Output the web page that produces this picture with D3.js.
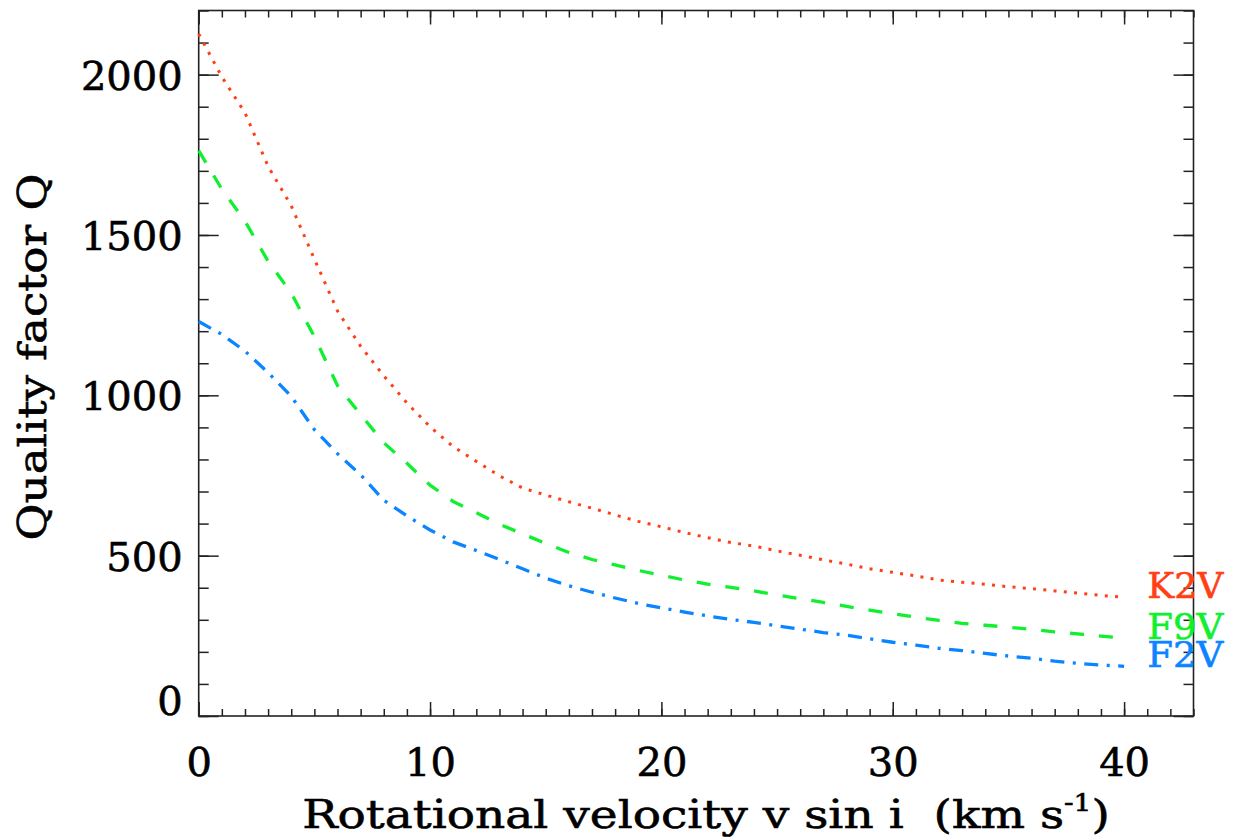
<!DOCTYPE html>
<html>
<head>
<meta charset="utf-8">
<script src="https://cdn.jsdelivr.net/npm/d3@7"></script>
<style>
body { margin: 0; background: #fff; }
text { font-family: "DejaVu Serif", serif; fill: #000; stroke: #000; stroke-width: 0.6px; }
</style>
</head>
<body>
<svg width="1233" height="837"></svg>
<script>
// v sin i grid (km/s)
var vsini = [0, 1, 2, 3, 4, 5, 6, 7, 8, 9, 10, 11, 12, 13, 14, 15, 16, 17, 18, 19, 20,
    21, 22, 23, 24, 25, 26, 27, 28, 29, 30, 31, 32, 33, 34, 35, 36, 37, 38, 39, 40];

// quality factor Q
var k2v = [2127, 1993, 1881, 1714, 1591, 1425, 1263, 1153, 1061, 976, 902, 840, 794, 749, 711, 689, 668, 648, 627, 607, 590,
    572, 556, 541, 530, 515, 501, 487, 474, 459, 448, 437, 424, 417, 411, 403, 397, 390, 383, 376, 370];
var f9v = [1763, 1643, 1543, 1418, 1319, 1183, 1030, 940, 852, 788, 720, 669, 634, 598, 568, 538, 510, 488, 471, 454, 439,
    424, 411, 401, 390, 377, 366, 354, 342, 330, 319, 308, 298, 289, 283, 277, 270, 262, 256, 249, 243];
var f2v = [1230, 1190, 1138, 1071, 997, 893, 818, 752, 673, 624, 580, 543, 516, 488, 459, 430, 406, 386, 368, 351, 337,
    324, 312, 301, 292, 281, 271, 260, 252, 241, 230, 221, 211, 204, 195, 187, 180, 171, 164, 159, 155];

var seriesNames = ["K2V", "F9V", "F2V"];
var xMajor = [0, 10, 20, 30, 40];
var yMajor = [0, 500, 1000, 1500, 2000];

var svg = d3.select("svg");

var x = d3.scaleLinear().domain([0, 43]).range([198.7, 1193.5]);
var y = d3.scaleLinear().domain([0, 2200]).range([716, 10.5]);

var series = [
    { name: seriesNames[0], values: k2v, color: "#ff4014", dash: "3,7.3", width: 3 },
    { name: seriesNames[1], values: f9v, color: "#10f030", dash: "14,15", width: 3.3 },
    { name: seriesNames[2], values: f2v, color: "#0a84ff", dash: "14,8.5,3,8.5", width: 3.3 }
];

// frame
svg.append("rect")
    .attr("x", x(0)).attr("y", y(2200))
    .attr("width", x(43) - x(0)).attr("height", y(0) - y(2200))
    .attr("fill", "none").attr("stroke", "#222").attr("stroke-width", 1.6);

function styleAxis(g) {
    g.select(".domain").remove();
    g.selectAll(".tick line").attr("stroke", "#222").attr("stroke-width", 1.5);
}

var minorX = d3.range(0, 44, 1), minorY = d3.range(0, 2201, 100);

// bottom axis
svg.append("g").attr("transform", "translate(0," + y(0) + ")")
    .call(d3.axisBottom(x).tickValues(minorX).tickSize(-7).tickFormat(""))
    .call(styleAxis);
var xAxis = svg.append("g").attr("transform", "translate(0," + y(0) + ")")
    .call(d3.axisBottom(x).tickValues(xMajor).tickSize(-14).tickPadding(32).tickFormat(d3.format("d")))
    .call(styleAxis);
xAxis.selectAll(".tick text").attr("font-size", 40).attr("font-family", "DejaVu Serif");

// top axis
svg.append("g").attr("transform", "translate(0," + y(2200) + ")")
    .call(d3.axisTop(x).tickValues(minorX).tickSize(-7).tickFormat(""))
    .call(styleAxis);
svg.append("g").attr("transform", "translate(0," + y(2200) + ")")
    .call(d3.axisTop(x).tickValues(xMajor).tickSize(-14).tickFormat(""))
    .call(styleAxis);

// left axis
svg.append("g").attr("transform", "translate(" + x(0) + ",0)")
    .call(d3.axisLeft(y).tickValues(minorY).tickSize(-10).tickFormat(""))
    .call(styleAxis);
var yAxis = svg.append("g").attr("transform", "translate(" + x(0) + ",0)")
    .call(d3.axisLeft(y).tickValues(yMajor).tickSize(-20).tickPadding(16).tickFormat(d3.format("d")))
    .call(styleAxis);
yAxis.selectAll(".tick text").attr("font-size", 40).attr("font-family", "DejaVu Serif")
    .attr("dy", function(d) { return d === 0 ? "-0.05em" : "0.36em"; });

// right axis
svg.append("g").attr("transform", "translate(" + x(43) + ",0)")
    .call(d3.axisRight(y).tickValues(minorY).tickSize(-10).tickFormat(""))
    .call(styleAxis);
svg.append("g").attr("transform", "translate(" + x(43) + ",0)")
    .call(d3.axisRight(y).tickValues(yMajor).tickSize(-20).tickFormat(""))
    .call(styleAxis);

// curves
var line = d3.line()
    .x(function(d, i) { return x(vsini[i]); })
    .y(function(d) { return y(d); });

series.forEach(function(s) {
    svg.append("path")
        .datum(s.values)
        .attr("d", line)
        .attr("fill", "none")
        .attr("stroke", s.color)
        .attr("stroke-width", s.width)
        .attr("stroke-dasharray", s.dash)
        .attr("stroke-linecap", "butt");

    svg.append("text")
        .attr("x", x(41))
        .attr("y", y(s.values[s.values.length - 1]) + 1)
        .attr("font-size", 36)
        .attr("textLength", 76)
        .attr("lengthAdjust", "spacingAndGlyphs")
        .style("fill", s.color)
        .style("stroke", s.color)
        .text(s.name);
});

// axis titles, squeezed/stretched to the widths in the figure
function fitWidth(sel, w, cx) {
    var bb = sel.node().getBBox();
    var k = w / bb.width;
    sel.attr("transform", "translate(" + cx + ",0) scale(" + k + ",1)");
}

var xt = svg.append("text")
    .attr("x", 0).attr("y", 828)
    .attr("text-anchor", "middle")
    .attr("font-size", 40);
xt.append("tspan").text("Rotational velocity v sin i  (km s");
xt.append("tspan").attr("font-size", 24).attr("dy", -17).text("-1");
xt.append("tspan").attr("dy", 17).text(")");
xt.attr("xml:space", "preserve");
fitWidth(xt, 808, 706);

var yt = svg.append("text")
    .attr("text-anchor", "middle")
    .attr("font-size", 40)
    .text("Quality factor Q");
var ybb = yt.node().getBBox();
yt.attr("transform", "translate(46,357) rotate(-90) scale(" + (367 / ybb.width) + ",1)");
</script>
</body>
</html>
